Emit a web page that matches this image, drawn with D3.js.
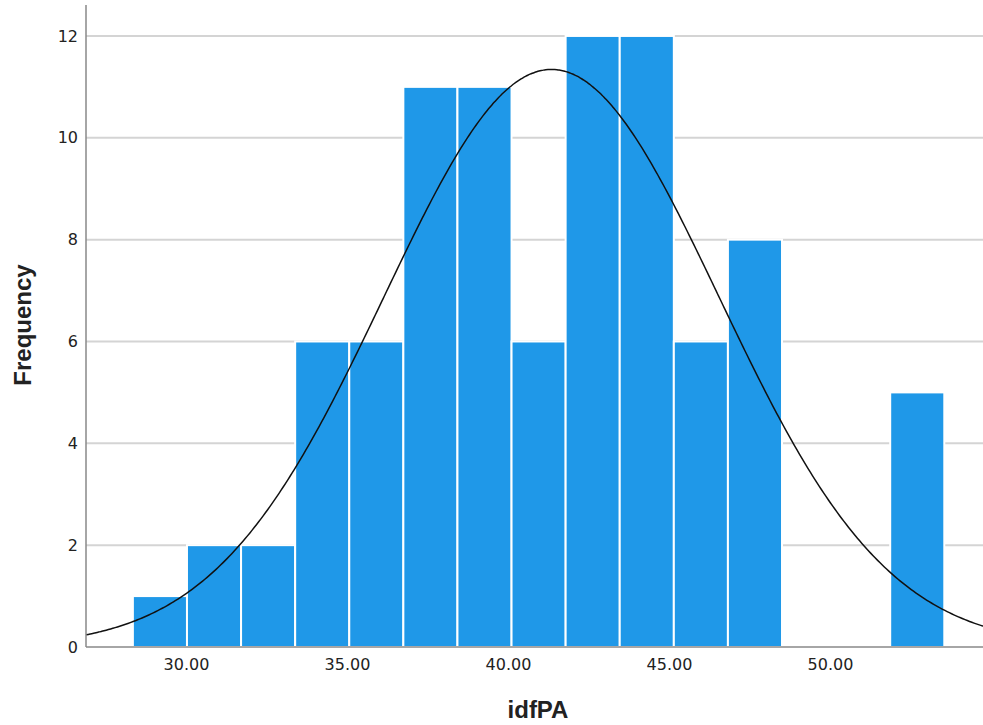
<!DOCTYPE html>
<html>
<head>
<meta charset="utf-8">
<script src="https://cdn.jsdelivr.net/npm/d3@7"></script>
<style>
  html, body { margin: 0; padding: 0; background: #fff; }
  svg { display: block; }
</style>
</head>
<body>
<svg id="chart" width="983" height="725"></svg>
<script>
// ---- data ----
const binLower = [28.35, 30.03, 31.71, 33.39, 35.07, 36.75, 38.43, 40.11, 41.79, 43.47, 45.15, 46.83, 48.51, 50.19, 51.87];
const binWidth = 1.68;
const counts   = [1, 2, 2, 6, 6, 11, 11, 6, 12, 12, 6, 8, 0, 0, 5];
const xTicks = [30, 35, 40, 45, 50];
const yTicks = [0, 2, 4, 6, 8, 10, 12];
const curveMean = 41.35;
const curveSD = 5.2;
const xLabel = "idfPA";
const yLabel = "Frequency";

// ---- layout ----
const svg = d3.select("#chart");
const mLeft = 86, mRight = 983, mBottom = 647, mTop = 5;

const x = d3.scaleLinear().domain([26.894, 54.752]).range([mLeft, mRight]);
const y = d3.scaleLinear().domain([0, 12.6]).range([mBottom, mTop + 0.4]);

// gridlines
svg.append("g").selectAll("line").data(yTicks.filter(d => d > 0)).join("line")
  .attr("x1", mLeft).attr("x2", mRight)
  .attr("y1", d => y(d)).attr("y2", d => y(d))
  .attr("stroke", "#d4d4d4").attr("stroke-width", 2);

// bars
const N = d3.sum(counts);
svg.append("g").selectAll("rect").data(binLower.map((b, i) => ({ b, c: counts[i] })).filter(d => d.c > 0)).join("rect")
  .attr("x", d => x(d.b))
  .attr("width", d => x(d.b + binWidth) - x(d.b))
  .attr("y", d => y(d.c))
  .attr("height", d => y(0) - y(d.c))
  .attr("fill", "#1f98e8")
  .attr("stroke", "#ffffff").attr("stroke-width", 2);

// normal curve
const xs = d3.range(0, 401).map(i => 26.894 + i * (54.752 - 26.894) / 400);
const pdf = v => N * binWidth / (curveSD * Math.sqrt(2 * Math.PI)) * Math.exp(-0.5 * ((v - curveMean) / curveSD) ** 2);
svg.append("path")
  .datum(xs)
  .attr("d", d3.line().x(d => x(d)).y(d => y(pdf(d))).curve(d3.curveBasis))
  .attr("fill", "none").attr("stroke", "#111").attr("stroke-width", 1.5);

// axes
const xAxis = svg.append("g").attr("transform", `translate(0,${mBottom})`)
  .call(d3.axisBottom(x).tickValues(xTicks).tickFormat(d3.format(".2f")).tickSize(0).tickPadding(12));
xAxis.select(".domain").attr("stroke", "#888").attr("stroke-width", 1.5).attr("d", `M${mLeft},0H${mRight}`);
xAxis.selectAll("text").attr("font-family", "DejaVu Sans, sans-serif").attr("font-size", 16).attr("fill", "#222");

const yAxis = svg.append("g").attr("transform", `translate(${mLeft},0)`)
  .call(d3.axisLeft(y).tickValues(yTicks).tickFormat(d3.format("d")).tickSize(0).tickPadding(8));
yAxis.select(".domain").attr("stroke", "#888").attr("stroke-width", 1.5).attr("d", `M0,${mTop}V${mBottom}`);
yAxis.selectAll("text").attr("font-family", "DejaVu Sans, sans-serif").attr("font-size", 16).attr("fill", "#222");

// titles
svg.append("text").attr("x", 538).attr("y", 718).attr("text-anchor", "middle")
  .attr("font-family", "Liberation Sans, Arial, sans-serif").attr("font-weight", "bold").attr("font-size", 24)
  .attr("fill", "#222").text(xLabel);
svg.append("text").attr("transform", "translate(31,325) rotate(-90)").attr("text-anchor", "middle")
  .attr("font-family", "Liberation Sans, Arial, sans-serif").attr("font-weight", "bold").attr("font-size", 24)
  .attr("fill", "#222").text(yLabel);
</script>
</body>
</html>
